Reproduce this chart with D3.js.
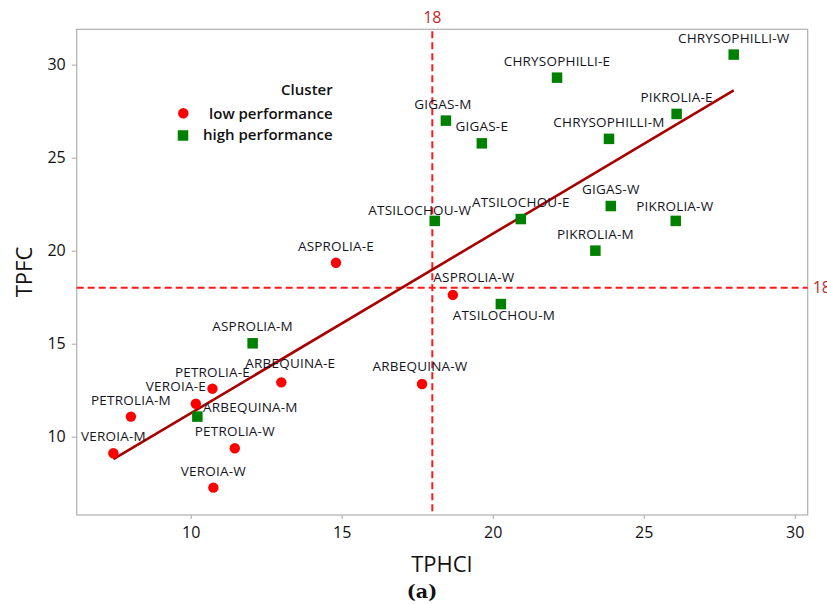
<!DOCTYPE html>
<html>
<head>
<meta charset="utf-8">
<script src="https://cdn.jsdelivr.net/npm/d3@7"></script>
<style>
    body { margin: 0; background: #fff; }
    svg { display: block; }
</style>
</head>
<body>
<div class="svgDiv"></div>
<script>
//low performance cluster
const lowNames = ["ASPROLIA-E", "ASPROLIA-W", "ARBEQUINA-E", "ARBEQUINA-W", "PETROLIA-E",
    "VEROIA-E", "PETROLIA-M", "VEROIA-M", "PETROLIA-W", "VEROIA-W"];
const lowTPHCl = [14.81, 18.68, 13.00, 17.66, 10.72, 10.17, 8.02, 7.44, 11.46, 10.75];
const lowTPFC = [19.35, 17.62, 12.92, 12.83, 12.58, 11.77, 11.08, 9.11, 9.38, 7.26];

//high performance cluster
const highNames = ["ASPROLIA-M", "ARBEQUINA-M", "ATSILOCHOU-M", "ATSILOCHOU-W", "ATSILOCHOU-E",
    "GIGAS-M", "GIGAS-E", "GIGAS-W", "CHRYSOPHILLI-E", "CHRYSOPHILLI-M", "CHRYSOPHILLI-W",
    "PIKROLIA-E", "PIKROLIA-W", "PIKROLIA-M"];
const highTPHCl = [12.05, 10.22, 20.27, 18.08, 20.93, 18.45, 19.64, 23.91, 22.13, 23.85, 27.98, 26.09, 26.06, 23.40];
const highTPFC = [15.02, 11.08, 17.13, 21.60, 21.70, 26.99, 25.77, 22.40, 29.30, 26.01, 30.54, 27.35, 21.60, 20.00];

//axis ticks and reference values
const xTicks = [10, 15, 20, 25, 30];
const yTicks = [10, 15, 20, 25, 30];
const refX = 18;
const refY = 18;

//fitted line
const fitSlope = 0.965;
const fitIntercept = 1.61;

const clusters = ["low performance", "high performance"];

//label nudges where the plot moved a label off its point
const labelNudge = {
    "ATSILOCHOU-W": [-15, -6],
    "ASPROLIA-W": [21, -13],
    "ATSILOCHOU-M": [3, 16],
    "ARBEQUINA-E": [9, -14],
    "VEROIA-E": [-20, -13],
    "ARBEQUINA-M": [53, -5],
    "ARBEQUINA-W": [-2, -13],
    "GIGAS-M": [-3, -12],
    "PIKROLIA-W": [-1, -10]
};

class Chart {
    constructor(opts) {
        this.element = opts.element;
        this.width = 827;
        this.height = 604;
        this.draw();
    }

    draw() {
        const that = this;
        const font = "'Open Sans', 'Noto Sans', sans-serif";

        //table of all points
        const points = [];
        lowNames.forEach((n, i) => points.push({ name: n, x: lowTPHCl[i], y: lowTPFC[i], c: 0 }));
        highNames.forEach((n, i) => points.push({ name: n, x: highTPHCl[i], y: highTPFC[i], c: 1 }));

        this.svg = d3.select(this.element)
            .append("svg")
            .attr("width", this.width)
            .attr("height", this.height)
            .style("overflow", "hidden");

        //plot frame
        const left = 76.7, right = 807.7, top = 29.3, bottom = 515;

        this.xScale = d3.scaleLinear().domain([6.225, 30.43]).range([left, right]);
        this.yScale = d3.scaleLinear().domain([5.79, 31.9]).range([bottom, top]);

        //x axis
        const gx = this.svg.append("g")
            .attr("transform", "translate(0," + bottom + ")")
            .call(d3.axisBottom(this.xScale).tickValues(xTicks).tickSize(4).tickPadding(8).tickSizeOuter(0));
        gx.select(".domain").remove();
        gx.selectAll("line").attr("stroke", "#a8a8a8");
        gx.selectAll("text").attr("font-family", font).attr("font-size", 16).attr("fill", "#111");

        //y axis
        const gy = this.svg.append("g")
            .attr("transform", "translate(" + left + ",0)")
            .call(d3.axisLeft(this.yScale).tickValues(yTicks).tickSize(5).tickPadding(6).tickSizeOuter(0));
        gy.select(".domain").remove();
        gy.selectAll("line").attr("stroke", "#a8a8a8");
        gy.selectAll("text").attr("font-family", font).attr("font-size", 16).attr("fill", "#111");

        //frame around the plot
        this.svg.append("rect")
            .attr("x", left).attr("y", top)
            .attr("width", right - left).attr("height", bottom - top)
            .attr("fill", "none").attr("stroke", "#b0b0b0").attr("stroke-width", 1.2);

        //reference lines at 18
        this.svg.append("line")
            .attr("x1", this.xScale(refX)).attr("x2", this.xScale(refX))
            .attr("y1", top + 2).attr("y2", bottom)
            .attr("stroke", "#ff1a1a").attr("stroke-width", 2).attr("stroke-dasharray", "7,4");
        this.svg.append("line")
            .attr("x1", left).attr("x2", right)
            .attr("y1", this.yScale(refY)).attr("y2", this.yScale(refY))
            .attr("stroke", "#ff1a1a").attr("stroke-width", 2).attr("stroke-dasharray", "7,4");

        this.svg.append("text")
            .attr("x", this.xScale(refX)).attr("y", 22.5)
            .attr("text-anchor", "middle")
            .attr("font-family", font).attr("font-size", 16).attr("fill", "#c1272d")
            .text(refX);
        this.svg.append("text")
            .attr("x", right + 5).attr("y", this.yScale(refY) + 5.5)
            .attr("font-family", font).attr("font-size", 16).attr("fill", "#c1272d")
            .text(refY);

        //fit line across the data
        const ext = d3.extent(points, d => d.x);
        this.svg.append("line")
            .attr("x1", this.xScale(ext[0])).attr("y1", this.yScale(fitIntercept + fitSlope * ext[0]))
            .attr("x2", this.xScale(ext[1])).attr("y2", this.yScale(fitIntercept + fitSlope * ext[1]))
            .attr("stroke", "#a80000").attr("stroke-width", 2.6);

        //markers
        this.svg.selectAll("circle.low")
            .data(points.filter(d => d.c === 0))
            .enter()
            .append("circle")
            .attr("class", "low")
            .attr("cx", d => that.xScale(d.x))
            .attr("cy", d => that.yScale(d.y))
            .attr("r", 5.2)
            .attr("fill", "#ff0000");

        const sq = 10.5;
        this.svg.selectAll("rect.high")
            .data(points.filter(d => d.c === 1))
            .enter()
            .append("rect")
            .attr("class", "high")
            .attr("x", d => that.xScale(d.x) - sq / 2)
            .attr("y", d => that.yScale(d.y) - sq / 2)
            .attr("width", sq).attr("height", sq)
            .attr("fill", "#008000");

        //point labels
        this.svg.selectAll("text.lbl")
            .data(points)
            .enter()
            .append("text")
            .attr("class", "lbl")
            .attr("x", d => that.xScale(d.x) + (labelNudge[d.name] ? labelNudge[d.name][0] : 0))
            .attr("y", d => that.yScale(d.y) + (labelNudge[d.name] ? labelNudge[d.name][1] : -12))
            .attr("text-anchor", "middle")
            .attr("font-family", font).attr("font-size", 13.5).attr("letter-spacing", 0.2)
            .attr("fill", "#14141e")
            .text(d => d.name);

        //legend
        const lg = this.svg.append("g").attr("font-family", font).attr("font-size", 15)
            .attr("font-weight", 600).attr("fill", "#111");
        lg.append("text").attr("x", 332.7).attr("y", 95).attr("text-anchor", "end").text("Cluster");
        lg.append("circle").attr("cx", 183.3).attr("cy", 113.3).attr("r", 5.2).attr("fill", "#ff0000");
        lg.append("text").attr("x", 332.7).attr("y", 118.5).attr("text-anchor", "end").text(clusters[0]);
        lg.append("rect").attr("x", 183 - sq / 2).attr("y", 135.5 - sq / 2).attr("width", sq).attr("height", sq).attr("fill", "#008000");
        lg.append("text").attr("x", 332.7).attr("y", 139.5).attr("text-anchor", "end").text(clusters[1]);

        //axis titles
        this.svg.append("text")
            .attr("x", 441.7).attr("y", 571.5)
            .attr("text-anchor", "middle")
            .attr("font-family", font).attr("font-size", 22).attr("fill", "#111")
            .text("TPHCl");
        this.svg.append("text")
            .attr("transform", "translate(31.5,272) rotate(-90)")
            .attr("text-anchor", "middle")
            .attr("font-family", font).attr("font-size", 22).attr("fill", "#111")
            .text("TPFC");

        //panel tag
        this.svg.append("text")
            .attr("x", 422).attr("y", 598)
            .attr("text-anchor", "middle")
            .attr("font-family", "'DejaVu Serif', 'Liberation Serif', serif").attr("font-weight", "bold")
            .attr("font-size", 19).attr("fill", "#111")
            .text("(a)");
    }
}

new Chart({ element: ".svgDiv" });
</script>
</body>
</html>
